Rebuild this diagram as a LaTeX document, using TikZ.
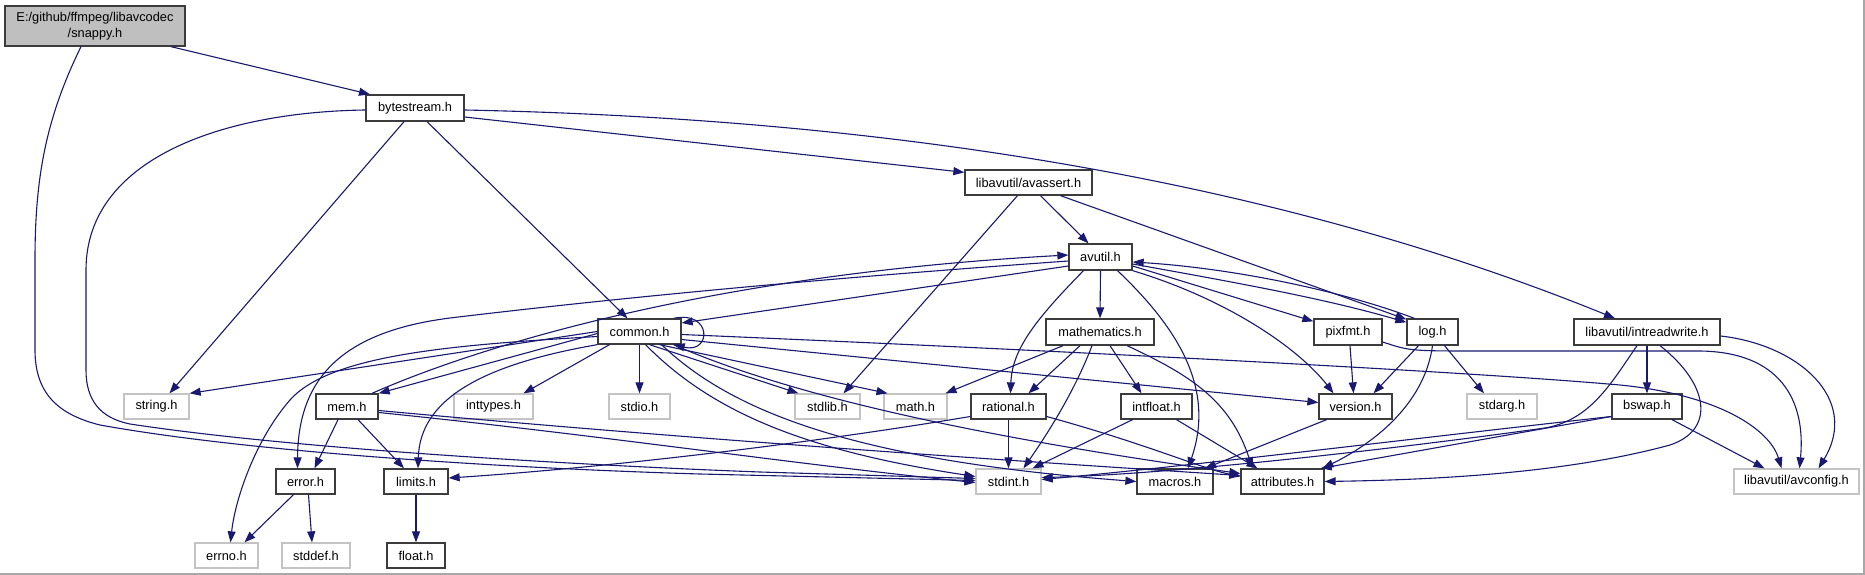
\documentclass[tikz,border=0pt]{standalone}
\usepackage{fontspec}
\setmainfont{Liberation Sans}
\usetikzlibrary{arrows.meta}
\definecolor{edgec}{HTML}{191970}
\definecolor{sysgray}{HTML}{C4C4C4}
\definecolor{boxdark}{HTML}{3C3C3C}
\definecolor{topgray}{HTML}{BFBFBF}
\definecolor{framegray}{HTML}{A8A8A8}
\begin{document}
\begin{tikzpicture}[x=1pt,y=-1pt,
  hdr/.style={draw=boxdark, line width=1.3pt, fill=white, minimum height=25pt, inner sep=0pt,
              font=\fontsize{12.8}{16}\selectfont, text=black},
  sys/.style={hdr, draw=sysgray},
  topnode/.style={hdr, fill=topgray, align=center},
  dep/.style={draw=edgec, line width=1.1pt, -{Triangle[length=11pt,width=8pt]}}]
\useasboundingbox (0,0) rectangle (1865,575);
\fill[white] (0,0) rectangle (1865,575);
\draw[framegray, line width=1.5pt] (1864,0) -- (1864,574) -- (0,574);

% nodes
\node[topnode, minimum width=180pt, minimum height=40pt] (snappy) at (95,26) {E:/github/ffmpeg/libavcodec\\/snappy.h};
\node[hdr, minimum width=98pt, minimum height=26pt] (bytestream) at (415,108) {bytestream.h};
\node[hdr, minimum width=127pt] (avassert) at (1028.5,182.5) {libavutil/avassert.h};
\node[hdr, minimum width=63pt, minimum height=26pt] (avutil) at (1100.5,257) {avutil.h};
\node[hdr, minimum width=83pt] (common) at (639.5,331.5) {common.h};
\node[hdr, minimum width=108pt, minimum height=26pt] (mathematics) at (1100,332) {mathematics.h};
\node[hdr, minimum width=68pt, minimum height=26pt] (pixfmt) at (1348,332) {pixfmt.h};
\node[hdr, minimum width=51pt, minimum height=26pt] (log) at (1432.5,332) {log.h};
\node[hdr, minimum width=146pt, minimum height=26pt] (intreadwrite) at (1647,332) {libavutil/intreadwrite.h};
\node[sys, minimum width=65pt] (string) at (156.5,406.5) {string.h};
\node[hdr, minimum width=62pt] (mem) at (347,406.5) {mem.h};
\node[sys, minimum width=79pt] (inttypes) at (493.5,406.5) {inttypes.h};
\node[sys, minimum width=61pt] (stdio) at (639.5,406.5) {stdio.h};
\node[sys, minimum width=65pt] (stdlib) at (827.5,406.5) {stdlib.h};
\node[sys, minimum width=63pt] (math) at (915.5,406.5) {math.h};
\node[hdr, minimum width=75pt] (rational) at (1008.5,406.5) {rational.h};
\node[hdr, minimum width=71pt] (intfloat) at (1156.5,406.5) {intfloat.h};
\node[hdr, minimum width=73pt] (version) at (1355.5,406.5) {version.h};
\node[sys, minimum width=70pt] (stdarg) at (1502,406.5) {stdarg.h};
\node[hdr, minimum width=70pt] (bswap) at (1647,406.5) {bswap.h};
\node[hdr, minimum width=59pt] (error) at (305.5,481.5) {error.h};
\node[hdr, minimum width=64pt] (limits) at (416,481.5) {limits.h};
\node[sys, minimum width=65pt] (stdint) at (1008.5,481.5) {stdint.h};
\node[hdr, minimum width=76pt] (macros) at (1175,481.5) {macros.h};
\node[hdr, minimum width=83pt] (attributes) at (1282.5,481.5) {attributes.h};
\node[sys, minimum width=125pt] (avconfig) at (1796.5,481.5) {libavutil/avconfig.h};
\node[sys, minimum width=63pt] (errno) at (226.5,555.5) {errno.h};
\node[sys, minimum width=68pt] (stddef) at (316,555.5) {stddef.h};
\node[hdr, minimum width=58pt] (float) at (416,555.5) {float.h};

% snappy.h
\draw[dep] ([xshift=76pt]snappy.south) -- ([xshift=-45pt]bytestream.north);
\draw[dep] ([xshift=-14pt]snappy.south) .. controls (45,120) and (35,180) .. (35,260) -- (35,350)
  .. controls (35,395) and (60,415) .. (100,425) .. controls (250,452) and (500,468) .. (700,474) -- ([yshift=1pt]stdint.west);

% bytestream.h
\draw[dep] ([yshift=-2pt]bytestream.west) .. controls (220,112) and (86,160) .. (86,270) -- (86,370)
  .. controls (86,400) and (100,418) .. (130,424) .. controls (300,450) and (600,466) .. (760,472) -- ([yshift=3pt]stdint.west);
\draw[dep] ([xshift=-11pt]bytestream.south) -- ([xshift=13pt]string.north);
\draw[dep] ([xshift=12pt]bytestream.south) -- ([xshift=-12pt]common.north);
\draw[dep] ([yshift=-9pt]bytestream.east) -- ([yshift=-3pt]avassert.north west);
\draw[dep] ([yshift=-2pt]bytestream.east) .. controls (850,118) and (1250,170) .. ([xshift=-32pt]intreadwrite.north);

% avassert.h
\draw[dep] ([xshift=-11pt]avassert.south) -- ([xshift=16pt]stdlib.north);
\draw[dep] ([xshift=12pt]avassert.south) -- ([xshift=-12pt]avutil.north);
\draw[dep] ([xshift=32pt]avassert.south) -- ([yshift=-1pt]log.north west);

% avutil.h
\draw[dep] ([yshift=-9pt]avutil.west) -- ([yshift=8.5pt]common.east);
\draw[dep] ([yshift=-4pt]avutil.west) .. controls (800,280) and (600,300) .. (450,318)
  .. controls (340,332) and (298,380) .. ([xshift=-8pt]error.north);
\draw[dep] (avutil.south) -- (mathematics.north);
\draw[dep] ([xshift=-17pt]avutil.south) .. controls (1035,320) and (1012,350) .. ([xshift=2pt]rational.north);
\draw[dep] ([xshift=17pt]avutil.south) .. controls (1180,330) and (1215,390) .. ([xshift=13pt]macros.north);
\draw[dep] (avutil.south east) .. controls (1230,300) and (1300,350) .. ([xshift=-22pt]version.north);
\draw[dep] ([yshift=-9pt]avutil.east) -- ([yshift=-3pt]pixfmt.north west);
\draw[dep] ([yshift=-7pt]avutil.east) .. controls (1250,285) and (1330,300) .. ([yshift=-4pt]log.north west);
\draw[dep] ([xshift=8pt]log.north west) .. controls (1340,290) and (1230,268) .. ([yshift=-5pt]avutil.east);

% mem.h -> avutil.h
\draw[dep] ([xshift=25pt]mem.north) .. controls (470,350) and (700,275) .. ([yshift=2pt]avutil.west);

% common.h
\draw[dep] ([xshift=-8pt]common.north east) .. controls (712,310) and (712,354) .. ([xshift=-8pt]common.south east);
\draw[dep] (common.west) -- (string.north east);
\draw[dep] ([yshift=-2pt]common.west) -- (mem.north east);
\draw[dep] ([yshift=-5pt]common.west) .. controls (450,345) and (330,355) .. (290,400)
  .. controls (255,440) and (235,500) .. ([xshift=4pt]errno.north);
\draw[dep] (common.south west) .. controls (480,365) and (420,400) .. ([xshift=2pt]limits.north);
\draw[dep] ([xshift=-30pt]common.south) -- ([xshift=30pt]inttypes.north);
\draw[dep] (common.south) -- (stdio.north);
\draw[dep] ([xshift=10pt]common.south) -- ([xshift=-29pt]stdlib.north);
\draw[dep] ([xshift=20pt]common.south) -- ([xshift=-28pt]math.north);
\draw[dep] ([xshift=6pt]common.south) .. controls (710,410) and (800,450) .. ([yshift=5pt]stdint.west);
\draw[dep] ([xshift=22pt]common.south) .. controls (730,410) and (850,460) .. (macros.west);
\draw[dep] ([xshift=34pt]common.south) .. controls (800,400) and (1000,440) .. ([yshift=8pt]attributes.west);
\draw[dep] ([yshift=-8pt]common.east) -- ([yshift=4pt]version.west);
\draw[dep] ([yshift=-3pt]common.east) .. controls (1000,348) and (1450,370) .. (1620,385)
  .. controls (1720,395) and (1770,430) .. ([xshift=-15pt]avconfig.north);

% mem.h
\draw[dep] ([xshift=-9pt]mem.south) -- ([xshift=9pt]error.north);
\draw[dep] ([xshift=11pt]mem.south) -- ([xshift=-12pt]limits.north);
\draw[dep] ([yshift=-6pt]mem.east) .. controls (600,435) and (800,465) .. ([yshift=-1pt]stdint.west);
\draw[dep] ([yshift=-4pt]mem.east) .. controls (700,440) and (1000,460) .. ([yshift=6pt]attributes.west);

% mathematics.h
\draw[dep] ([xshift=-37pt]mathematics.south) -- ([xshift=30pt]math.north);
\draw[dep] ([xshift=-20pt]mathematics.south) -- ([xshift=20pt]rational.north);
\draw[dep] ([xshift=-8pt]mathematics.south) .. controls (1075,390) and (1050,430) .. ([xshift=15pt]stdint.north);
\draw[dep] ([xshift=10pt]mathematics.south) -- ([xshift=-15pt]intfloat.north);
\draw[dep] ([xshift=27pt]mathematics.south) .. controls (1190,375) and (1230,400) .. ([xshift=-30pt]attributes.north);

% rational.h, intfloat.h
\draw[dep] (rational.south) -- (stdint.north);
\draw[dep] ([yshift=-10pt]rational.west) .. controls (800,445) and (600,468) .. ([yshift=3.5pt]limits.east);
\draw[dep] ([yshift=-10pt]rational.east) .. controls (1150,445) and (1200,468) .. ([yshift=5pt]attributes.west);
\draw[dep] ([xshift=-24pt]intfloat.south) -- ([xshift=24pt]stdint.north);
\draw[dep] ([xshift=20pt]intfloat.south) -- ([xshift=-25pt]attributes.north);

% version.h, pixfmt.h, log.h
\draw[dep] ([xshift=-29pt]version.south) -- ([xshift=30pt]macros.north);
\draw[dep] ([xshift=2pt]pixfmt.south) -- ([xshift=-2pt]version.north);
\draw[dep] ([yshift=-10pt]pixfmt.east) .. controls (1410,351) .. (1480,351) -- (1700,351)
  .. controls (1780,352) and (1806,400) .. ([xshift=3pt]avconfig.north);
\draw[dep] ([xshift=-14pt]log.south) -- ([xshift=18pt]version.north);
\draw[dep] ([xshift=12pt]log.south) -- ([xshift=-18pt]stdarg.north);
\draw[dep] (log.south) .. controls (1425,400) and (1380,440) .. ([xshift=-2pt]attributes.north east);

% intreadwrite.h
\draw[dep] (intreadwrite.south) -- (bswap.north);
\draw[dep] ([xshift=-10pt]intreadwrite.south) .. controls (1610,385) and (1590,420) .. (1545,428)
  .. controls (1350,455) and (1150,475) .. ([yshift=4pt]stdint.east);
\draw[dep] ([xshift=13pt]intreadwrite.south) .. controls (1710,385) and (1715,430) .. (1670,445)
  .. controls (1560,475) and (1420,480) .. (attributes.east);
\draw[dep] ([yshift=-4pt]intreadwrite.east) .. controls (1800,345) and (1860,400) .. ([xshift=22pt]avconfig.north);

% bswap.h
\draw[dep] ([yshift=-10pt]bswap.west) .. controls (1400,440) and (1200,465) .. ([yshift=2pt]stdint.east);
\draw[dep] ([yshift=-10pt]bswap.west) -- ([xshift=-4pt]attributes.north east);
\draw[dep] ([xshift=25pt]bswap.south) -- ([xshift=-32pt]avconfig.north);

% error.h, limits.h
\draw[dep] ([xshift=-12pt]error.south) -- ([xshift=18pt]errno.north);
\draw[dep] ([xshift=3pt]error.south) -- ([xshift=-4pt]stddef.north);
\draw[dep] (limits.south) -- (float.north);
\end{tikzpicture}
\end{document}
